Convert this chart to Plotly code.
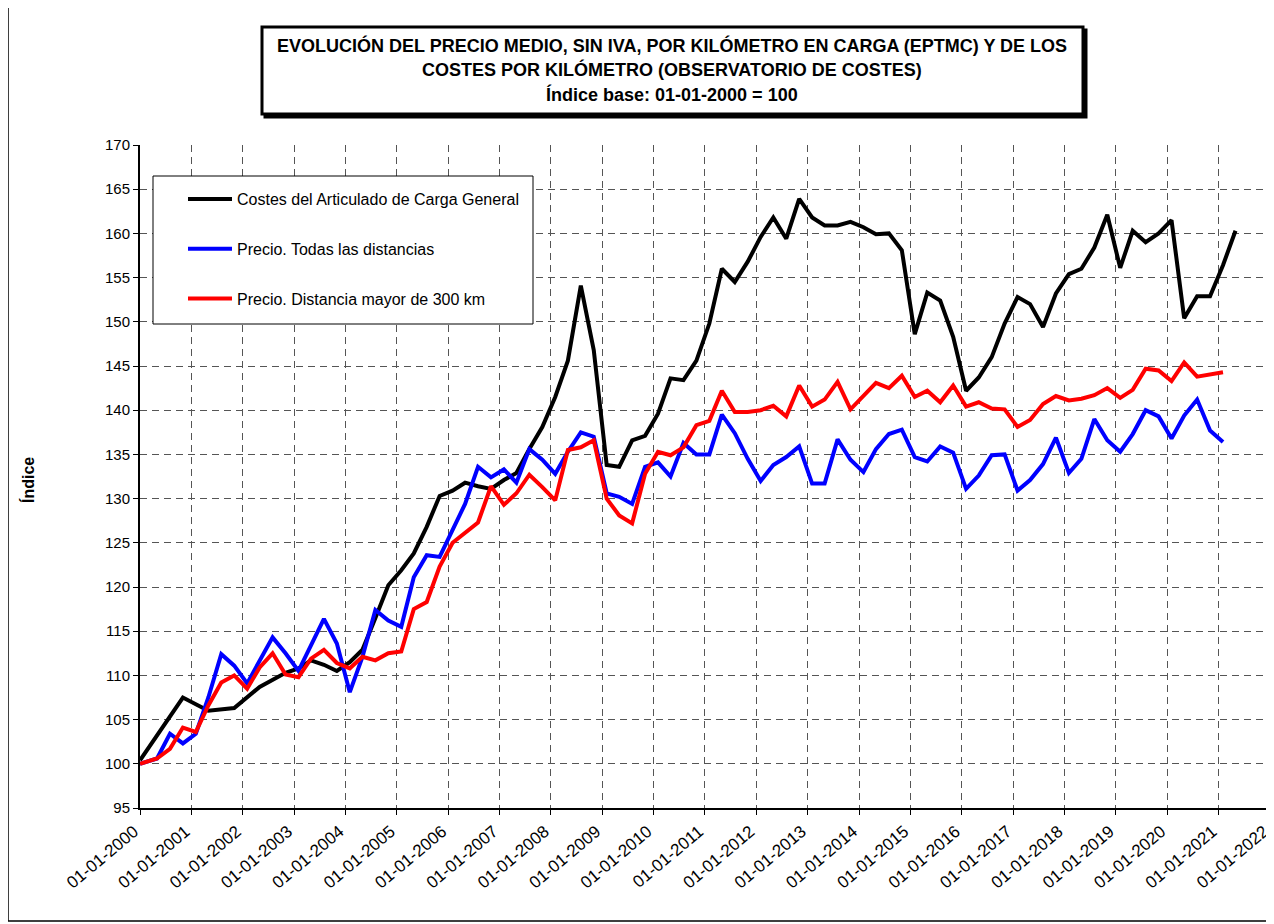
import plotly.graph_objects as go

# ---- data ----
price_dates = ["2000-01-01"] + [f"{y}-{m:02d}-01" for y in range(2000, 2021) for m in (2, 5, 8, 11) if not (y == 2000 and m == 2)] + ["2021-02-01"]

precio_todas = [100.0, 100.6, 103.4, 102.3,
                103.4, 107.5, 112.4, 111.1,
                109.1, 111.7, 114.3, 112.5,
                110.5, 113.4, 116.4, 113.6,
                108.1, 112.1, 117.4, 116.2,
                115.5, 121.1, 123.6, 123.4,
                126.4, 129.4, 133.6, 132.4,
                133.3, 131.8, 135.6, 134.4,
                132.8, 135.3, 137.5, 137.0,
                130.6, 130.2, 129.4, 133.6,
                134.1, 132.5, 136.3, 135.0,
                135.0, 139.5, 137.4, 134.5,
                132.0, 133.8, 134.7, 135.9,
                131.7, 131.7, 136.7, 134.4,
                133.0, 135.6, 137.3, 137.8,
                134.7, 134.2, 135.9, 135.2,
                131.1, 132.6, 134.9, 135.0,
                130.9, 132.1, 133.9, 136.9,
                132.9, 134.5, 139.0, 136.6,
                135.3, 137.3, 140.0, 139.3,
                136.8, 139.4, 141.2, 137.7,
                136.4]

precio_300 = [100.0, 100.6, 101.7, 104.1,
              103.6, 106.6, 109.2, 110.0,
              108.5, 110.9, 112.5, 110.1,
              109.8, 111.9, 112.9, 111.4,
              110.8, 112.1, 111.7, 112.5,
              112.7, 117.5, 118.3, 122.3,
              125.0, 126.2, 127.3, 131.4,
              129.3, 130.6, 132.7, 131.3,
              129.8, 135.5, 135.8, 136.6,
              130.0, 128.1, 127.2, 132.8,
              135.3, 134.9, 135.8, 138.3,
              138.8, 142.2, 139.8, 139.8,
              140.0, 140.5, 139.3, 142.8,
              140.4, 141.2, 143.2, 140.1,
              141.7, 143.1, 142.5, 143.9,
              141.5, 142.2, 140.9, 142.8,
              140.4, 140.9, 140.2, 140.1,
              138.1, 138.9, 140.7, 141.6,
              141.1, 141.3, 141.7, 142.5,
              141.4, 142.3, 144.7, 144.5,
              143.3, 145.4, 143.8, 144.1,
              144.3]

cost_dates = ["2000-01-01", "2000-11-01", "2001-05-01", "2001-11-01", "2002-05-01", "2002-11-01"] + \
    [f"{y}-{m:02d}-01" for y in range(2003, 2021) for m in (2, 5, 8, 11)] + ["2021-02-01", "2021-05-01"]

costes = [100.4, 107.5, 106.0, 106.3, 108.7, 110.3,
          110.8, 111.7, 111.2, 110.5,
          111.5, 112.9, 116.5, 120.2,
          121.9, 123.8, 126.8, 130.3,
          130.9, 131.8, 131.4, 131.1,
          132.1, 132.9, 135.6, 138.1,
          141.5, 145.6, 154.1, 146.8,
          133.8, 133.6, 136.6, 137.1,
          139.6, 143.6, 143.4, 145.6,
          149.8, 156.0, 154.5, 156.8,
          159.6, 161.8, 159.4, 163.9,
          161.8, 160.9, 160.9, 161.3,
          160.7, 159.9, 160.0, 158.1,
          148.6, 153.3, 152.4, 148.3,
          142.2, 143.7, 146.0, 149.8,
          152.8, 152.0, 149.4, 153.2,
          155.4, 156.0, 158.4, 162.1,
          156.1, 160.3, 159.0, 160.0,
          161.5, 150.4, 152.9, 152.9,
          156.4, 160.3]

series_names = ["Costes del Articulado de Carga General",
                "Precio. Todas las distancias",
                "Precio. Distancia mayor de 300 km"]
tick_dates = [f"{y}-01-01" for y in range(2000, 2023)]
title_lines = ["EVOLUCIÓN DEL PRECIO MEDIO, SIN IVA, POR KILÓMETRO EN CARGA (EPTMC) Y DE LOS",
               "COSTES POR KILÓMETRO (OBSERVATORIO DE COSTES)",
               "Índice base: 01-01-2000 = 100"]

# ---- layout constants (page pixels; the page body adds an 8px margin) ----
OFF = 8
PAGE_W, PAGE_H = 1274, 924
W, H = PAGE_W - OFF, PAGE_H - OFF
L, R, T, B = 140, 1270, 145, 808
PW, PH = R - L, B - T
def px(x): return (x - L) / PW
def py(y): return (B - y) / PH

FONT = "Liberation Sans, Arial, sans-serif"

fig = go.Figure()
fig.add_trace(go.Scatter(x=cost_dates, y=costes, mode="lines", name=series_names[0],
                         line=dict(color="#000000", width=4), legendgroup="a"))
fig.add_trace(go.Scatter(x=price_dates, y=precio_todas, mode="lines", name=series_names[1],
                         line=dict(color="#0000ff", width=4), legendgroup="b"))
fig.add_trace(go.Scatter(x=price_dates, y=precio_300, mode="lines", name=series_names[2],
                         line=dict(color="#ff0000", width=4), legendgroup="c"))

shapes = [
    # outer frame
    dict(type="rect", xref="paper", yref="paper", x0=px(8), x1=px(1271), y0=py(921), y1=py(7),
         line=dict(color="#000000", width=1.5), layer="below"),
    # title box shadow
    dict(type="rect", xref="paper", yref="paper", x0=px(265), x1=px(1086), y0=py(117), y1=py(30),
         line=dict(color="#000000", width=3), fillcolor="#000000", layer="below"),
    # title box
    dict(type="rect", xref="paper", yref="paper", x0=px(262), x1=px(1083), y0=py(114), y1=py(27),
         line=dict(color="#000000", width=3), fillcolor="#ffffff", layer="below"),
    # legend frame
    dict(type="rect", xref="paper", yref="paper", x0=px(153), x1=px(533), y0=py(324), y1=py(176),
         line=dict(color="#000000", width=1), fillcolor="#ffffff", layer="above"),
]

annotations = []
for txt, yy in zip(title_lines, [45, 70, 94]):
    annotations.append(dict(text=f"<b>{txt}</b>", xref="paper", yref="paper",
                            x=px(672), y=py(yy), showarrow=False, xanchor="center", yanchor="middle",
                            font=dict(family=FONT, size=18, color="#000000")))
annotations.append(dict(text="<b>Índice</b>", xref="paper", yref="paper", x=px(28), y=py(480),
                        showarrow=False, textangle=-90, xanchor="center", yanchor="middle",
                        font=dict(family=FONT, size=16, color="#000000")))

fig.update_layout(
    width=W, height=H,
    margin=dict(l=L - OFF, r=PAGE_W - R, t=T - OFF, b=PAGE_H - B, pad=0, autoexpand=False),
    paper_bgcolor="#ffffff", plot_bgcolor="#ffffff",
    font=dict(family=FONT, size=14, color="#000000"),
    showlegend=True,
    legend=dict(x=px(153), y=py(182), xanchor="left", yanchor="top",
                bgcolor="rgba(0,0,0,0)", borderwidth=0,
                font=dict(family=FONT, size=16, color="#000000"),
                tracegroupgap=26, traceorder="grouped", itemwidth=44, indentation=30),
    shapes=shapes, annotations=annotations,
)

fig.update_xaxes(type="date", range=["2000-01-01", "2022-01-01 08:00"], automargin=False,
                 tickmode="array", tickvals=tick_dates, tickformat="%d-%m-%Y",
                 tickangle=-40, ticklabeloverflow="allow", ticklabelshift=-6,
                 tickfont=dict(family=FONT, size=17, color="#000000"),
                 showgrid=True, gridcolor="#555555", griddash="7px,5px", gridwidth=1,
                 showline=True, linecolor="#000000", linewidth=2,
                 ticks="outside", ticklen=5, tickcolor="#000000", zeroline=False)
fig.update_yaxes(range=[95, 170], dtick=5, tick0=95, automargin=False,
                 tickfont=dict(family=FONT, size=15, color="#000000"),
                 showgrid=True, gridcolor="#555555", griddash="7px,5px", gridwidth=1,
                 showline=True, linecolor="#000000", linewidth=2,
                 ticks="outside", ticklen=5, tickcolor="#000000", zeroline=False)

fig.write_html("out.html")
